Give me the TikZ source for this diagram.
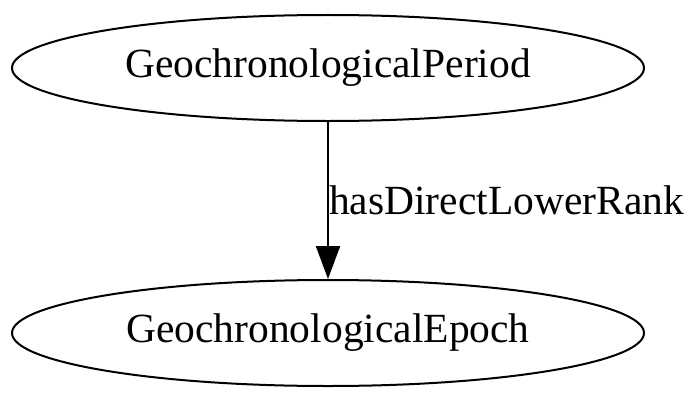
\documentclass[tikz,border=0pt]{standalone}
\usepackage{fontspec}
\setmainfont{Liberation Serif}
\usetikzlibrary{arrows.meta,positioning,shapes.geometric}

\tikzset{
  classnode/.style={draw, ellipse, line width=2bp, inner sep=0pt,
    minimum width=632bp, minimum height=106bp, font=\fontsize{41.5bp}{50bp}\selectfont},
  relation/.style={line width=2bp, -{Triangle[length=33bp,width=24bp]}},
  relationlabel/.style={font=\fontsize{41.5bp}{50bp}\selectfont, inner sep=0pt, anchor=west}
}

\begin{document}
\begin{tikzpicture}[x=1bp,y=1bp]
\useasboundingbox (0,0) rectangle (700,400);
% classes
\node[classnode] (period) at (328,332) {GeochronologicalPeriod};
\node[classnode] (epoch) at (328,67) {GeochronologicalEpoch};
% relation
\draw[relation] (period) -- (epoch)
  node[relationlabel, midway] (rank) {hasDirectLowerRank};
\end{tikzpicture}
\end{document}
